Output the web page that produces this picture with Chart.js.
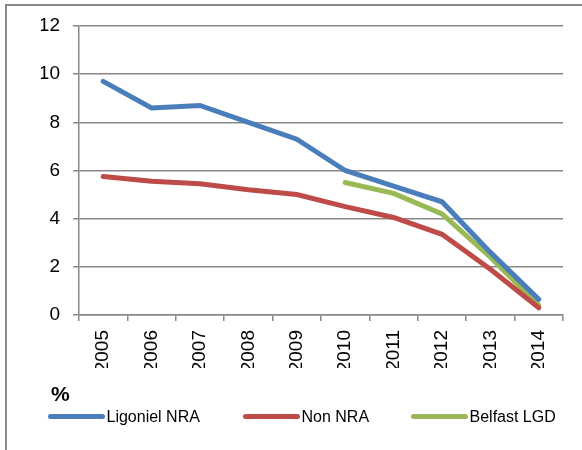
<!DOCTYPE html>
<html>
<head>
<meta charset="utf-8">
<script src="https://cdn.jsdelivr.net/npm/chart.js@4.4.0/dist/chart.umd.min.js"></script>
<style>
    html, body { margin: 0; padding: 0; background: #fff; }
    #frame {
        position: absolute; left: 5px; top: 4px; width: 600px; height: 460px;
        border-left: 2px solid #888; border-top: 2px solid #888;
    }
    #wrap { position: absolute; left: 0; top: 0; width: 582px; height: 450px; }
</style>
</head>
<body>
<div id="frame"></div>
<div id="wrap"><canvas id="chart" width="582" height="450"></canvas></div>
<script>
const years = ['2005', '2006', '2007', '2008', '2009', '2010', '2011', '2012', '2013', '2014'];
const ligonielNRA = [9.7, 8.6, 8.7, 8.0, 7.3, 6.0, 5.35, 4.7, 2.6, 0.65];
const nonNRA = [5.75, 5.55, 5.45, 5.2, 5.0, 4.5, 4.05, 3.35, 1.9, 0.3];
const belfastLGD = [null, null, null, null, null, 5.5, 5.05, 4.2, 2.4, 0.4];
const yTicks = [0, 2, 4, 6, 8, 10, 12];

const gridColor = '#888888';
const font = 'Liberation Sans, Arial, sans-serif';

// Excel-style legend in one row plus the bold "%" above it
// (the built-in legend wraps to two rows with this much spacing)
const bottomLegend = {
    id: 'bottomLegend',
    afterDraw(chart) {
        const ctx = chart.ctx;
        const starts = [50.5, 245.5, 413.5];
        const y = 416.5;
        ctx.save();
        ctx.font = 'bold 21px ' + font;
        ctx.fillStyle = '#000';
        ctx.textAlign = 'left';
        ctx.textBaseline = 'middle';
        ctx.fillText('%', 51, 395);

        ctx.font = '16px ' + font;
        ctx.lineWidth = 5;
        ctx.lineCap = 'round';
        chart.data.datasets.forEach((ds, i) => {
            const x = starts[i];
            ctx.strokeStyle = ds.borderColor;
            ctx.beginPath();
            ctx.moveTo(x, y);
            ctx.lineTo(x + 52, y);
            ctx.stroke();
            ctx.fillStyle = '#000';
            ctx.fillText(ds.label, x + 56, y + 1);
        });
        ctx.restore();
    }
};

function makeSet(label, data, color) {
    return {
        label: label,
        data: data,
        borderColor: color,
        backgroundColor: color,
        borderWidth: 5,
        borderCapStyle: 'round',
        pointRadius: 0,
        pointHoverRadius: 0,
        tension: 0,
        spanGaps: false
    };
}

new Chart(document.getElementById('chart').getContext('2d'), {
    type: 'line',
    data: {
        labels: years,
        datasets: [
            makeSet('Ligoniel NRA', ligonielNRA, '#4A7EBB'),
            makeSet('Non NRA', nonNRA, '#BE4B48'),
            makeSet('Belfast LGD', belfastLGD, '#98B954')
        ]
    },
    options: {
        responsive: false,
        animation: false,
        layout: { padding: { left: 41, right: 19, top: 26, bottom: 82 } },
        plugins: {
            tooltip: { enabled: false },
            legend: { display: false }
        },
        scales: {
            x: {
                offset: true,
                afterFit: scale => { scale.height = 53; },
                grid: {
                    offset: true,
                    drawOnChartArea: false,
                    color: gridColor,
                    lineWidth: 1.5,
                    tickLength: 6
                },
                border: { color: gridColor, width: 1.5 },
                ticks: {
                    minRotation: 90,
                    maxRotation: 90,
                    padding: 9,
                    color: '#000',
                    font: { family: font, size: 19 }
                }
            },
            y: {
                min: 0,
                max: 12,
                afterFit: scale => { scale.width = 38; },
                afterBuildTicks: scale => { scale.ticks = yTicks.map(v => ({ value: v })); },
                grid: { color: gridColor, lineWidth: 1.5, tickLength: 6 },
                border: { color: gridColor, width: 1.5 },
                ticks: {
                    padding: 13,
                    color: '#000',
                    font: { family: font, size: 19 }
                }
            }
        }
    },
    plugins: [bottomLegend]
});
</script>
</body>
</html>
